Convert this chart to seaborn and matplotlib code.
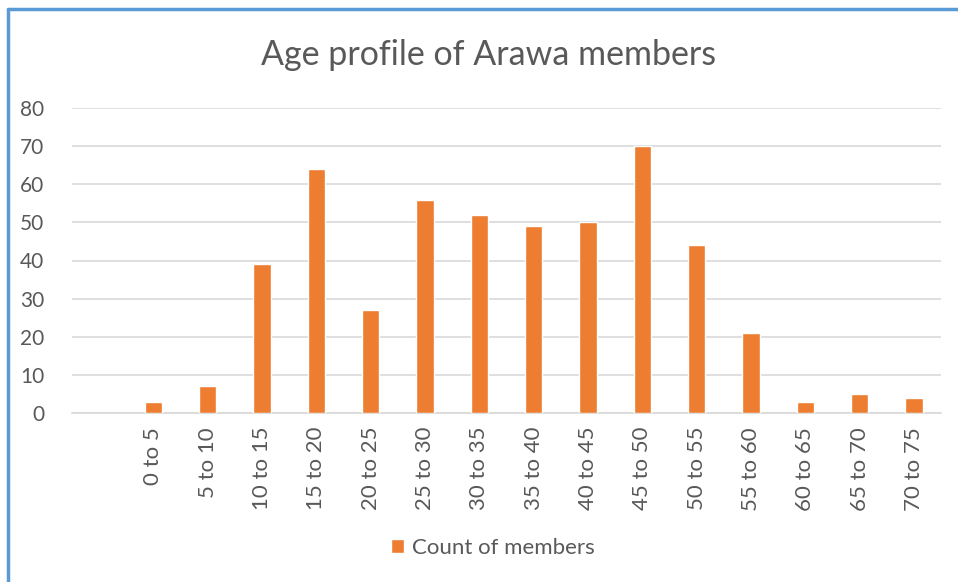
import matplotlib
matplotlib.use('Agg')
import matplotlib.pyplot as plt
import seaborn as sns
from matplotlib.lines import Line2D

## age groups and counts
age_groups = ['0 to 5', '5 to 10', '10 to 15', '15 to 20', '20 to 25', '25 to 30',
              '30 to 35', '35 to 40', '40 to 45', '45 to 50', '50 to 55', '55 to 60',
              '60 to 65', '65 to 70', '70 to 75']
counts = [3, 7, 39, 64, 27, 56, 52, 49, 50, 70, 44, 21, 3, 5, 4]
series_name = 'Count of members'
title = 'Age profile of Arawa members'

sns.set_style('white')
plt.rcParams['font.family'] = ['Lato', 'DejaVu Sans']
txt = '#595959'

fig = plt.figure(figsize=(9.58, 5.82), dpi=100)
ax = fig.add_axes([72/958, 1-413/582, (941-72)/958, (413-108)/582])

sns.barplot(x=age_groups, y=counts, color='#ED7D31', saturation=1, width=0.32,
            label=series_name, ax=ax, zorder=3)

# empty slot before first category
ax.set_xlim(-1.5, len(age_groups) - 0.5)
ax.set_ylim(0, 80)
ax.set_yticks(range(0, 81, 10))
ax.yaxis.grid(True, color='#D9D9D9', linewidth=1.2, zorder=0)

for s in ['top', 'right', 'left']:
    ax.spines[s].set_visible(False)
ax.spines['bottom'].set_color('#D9D9D9')
ax.spines['bottom'].set_linewidth(1.2)

ax.tick_params(axis='y', length=0, pad=20, labelsize=15, labelcolor=txt)
ax.tick_params(axis='x', length=0, pad=10, labelsize=16, labelcolor=txt,
               labelrotation=90)
ax.set_xlabel('')
ax.set_ylabel('')

fig.text(489/958, 1-55/582, title, ha='center', va='center',
         fontsize=24.5, color=txt)

h, l = ax.get_legend_handles_labels()
if ax.get_legend() is not None:
    ax.get_legend().remove()
fig.legend(h, l, loc='center', bbox_to_anchor=(493/958, 1-548/582),
           frameon=False, fontsize=16, labelcolor=txt,
           handlelength=0.6, handleheight=0.6, handletextpad=0.35)

# chart frame (left and top edges)
fig.add_artist(Line2D([8/958, 8/958], [0, 1-9/582], color='#5B9BD5', linewidth=2.5,
                      transform=fig.transFigure))
fig.add_artist(Line2D([8/958, 1], [1-9/582, 1-9/582], color='#5B9BD5', linewidth=2.5,
                      transform=fig.transFigure))

fig.savefig('out.png', dpi=100)
